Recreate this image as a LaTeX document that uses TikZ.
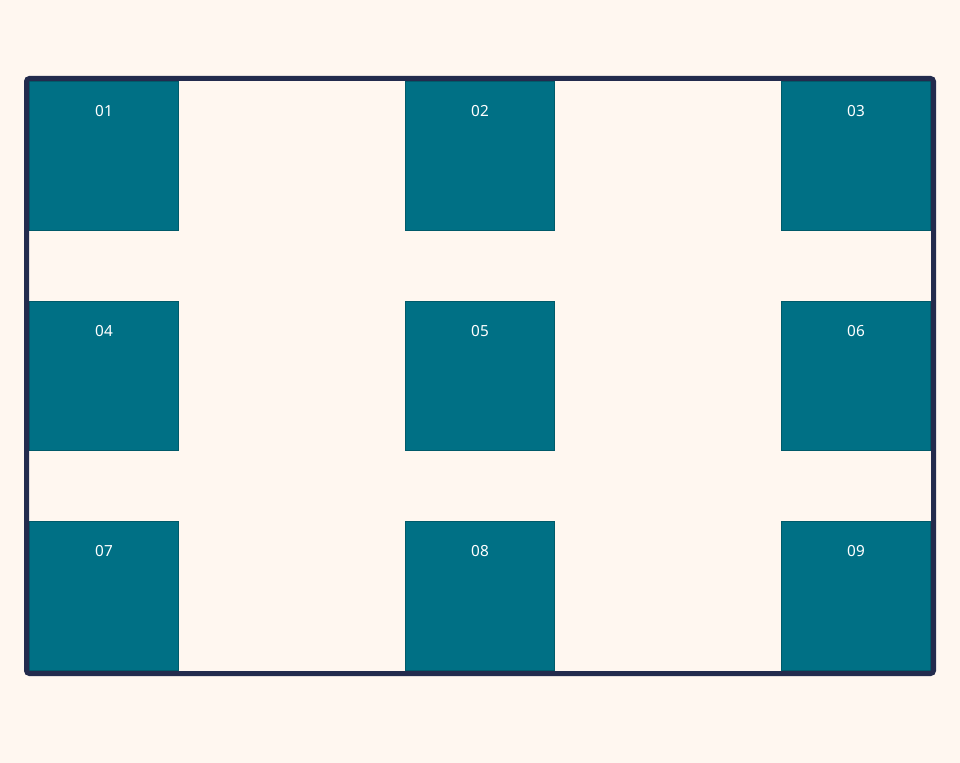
\documentclass[tikz,border=0pt]{standalone}
\usepackage{fontspec}
\setmainfont{Noto Sans}
\usetikzlibrary{positioning}

\definecolor{paper}{HTML}{FFF7F0}
\definecolor{frameblue}{HTML}{232B4D}
\definecolor{tealfill}{HTML}{007085}
\definecolor{tealedge}{HTML}{005A6A}

\begin{document}
\begin{tikzpicture}[
  x=0.75pt, y=-0.75pt,
  cell/.style={draw=tealedge, fill=tealfill, rectangle, line width=0.75pt,
    minimum width=111.75pt, minimum height=111.75pt, inner sep=0pt},
  celllbl/.style={text=white, font=\fontsize{11.5}{13}\selectfont, inner sep=0pt, anchor=center},
  outline/.style={draw=frameblue, line width=3.75pt, rounded corners=2.25pt},
]

\useasboundingbox[fill=paper] (0,0) rectangle (960,763);

%--- Baris 1 ---
\node[cell] (c01) at (104,156) {};
\node[cell] (c02) at (480,156) {};
\node[cell] (c03) at (856,156) {};

%--- Baris 2 ---
\node[cell] (c04) at (104,376) {};
\node[cell] (c05) at (480,376) {};
\node[cell] (c06) at (856,376) {};

%--- Baris 3 ---
\node[cell] (c07) at (104,596) {};
\node[cell] (c08) at (480,596) {};
\node[cell] (c09) at (856,596) {};

%--- Label ---
\node[celllbl] (l01) at ([yshift=-22.5pt]c01.north) {01};
\node[celllbl] (l02) at ([yshift=-22.5pt]c02.north) {02};
\node[celllbl] (l03) at ([yshift=-22.5pt]c03.north) {03};
\node[celllbl] (l04) at ([yshift=-22.5pt]c04.north) {04};
\node[celllbl] (l05) at ([yshift=-22.5pt]c05.north) {05};
\node[celllbl] (l06) at ([yshift=-22.5pt]c06.north) {06};
\node[celllbl] (l07) at ([yshift=-22.5pt]c07.north) {07};
\node[celllbl] (l08) at ([yshift=-22.5pt]c08.north) {08};
\node[celllbl] (l09) at ([yshift=-22.5pt]c09.north) {09};

%--- Bingkai luar ---
\draw[outline] (26.5,78.5) rectangle (933.5,673.5);

\end{tikzpicture}
\end{document}
